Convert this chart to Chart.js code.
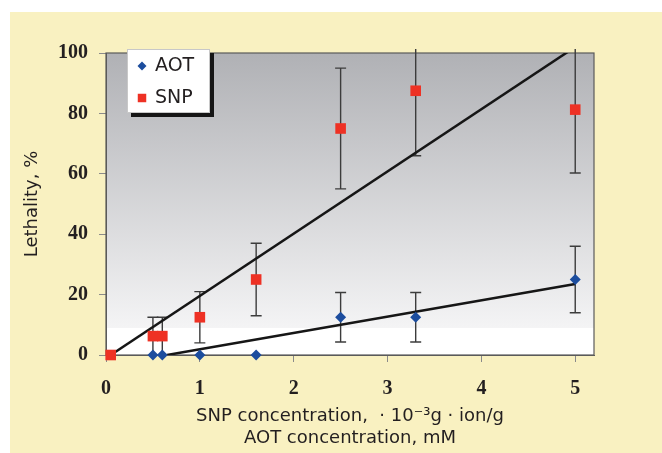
<!DOCTYPE html>
<html>
<head>
<meta charset="utf-8">
<title>Lethality vs concentration</title>
<script src="https://cdn.jsdelivr.net/npm/chart.js@4.4.0/dist/chart.umd.min.js"></script>
<style>
  html, body { margin: 0; padding: 0; background: #fff; }
  #wrap { width: 662px; height: 453px; }
</style>
</head>
<body>
<div id="wrap"><canvas id="lethalityChart"></canvas></div>
<script>
// Values
const xTicks = [0, 1, 2, 3, 4, 5];
const yTicks = [0, 20, 40, 60, 80, 100];

const aotX = [0.5, 0.6, 1, 1.6, 2.5, 3.3, 5];
const aotY = [0, 0, 0, 0, 12.5, 12.5, 25];
const aotErr = [0, 0, 0, 0, 8.2, 8.2, 11];

const snpX = [0.05, 0.5, 0.6, 1, 1.6, 2.5, 3.3, 5];
const snpY = [0, 6.25, 6.25, 12.5, 25, 75, 87.5, 81.25];
const snpErr = [0, 6.25, 6.25, 8.5, 12, 20, 21.5, 21];

// Linear trend lines (end points)
const snpTrendX = [0.05, 5];
const snpTrendY = [0, 102];
const aotTrendX = [0.65, 5];
const aotTrendY = [0, 23.5];

const textColor = '#231f20';

function toPoints(xs, ys) {
    return xs.map((v, i) => ({ x: v, y: ys[i] }));
}

// Yellow panel, grey gradient plot area and frame
const panel = {
    id: 'panel',
    beforeDraw(chart) {
        const { ctx, chartArea: a } = chart;
        ctx.save();
        ctx.fillStyle = '#f9f1c1';
        ctx.fillRect(10, 12, chart.width - 10, chart.height - 12);
        const g = ctx.createLinearGradient(0, a.top, 0, a.bottom);
        g.addColorStop(0, '#b0b1b5');
        g.addColorStop(0.91, '#f4f4f5');
        g.addColorStop(0.91, '#ffffff');
        g.addColorStop(1, '#ffffff');
        ctx.fillStyle = g;
        ctx.fillRect(a.left, a.top, a.right - a.left, a.bottom - a.top);
        ctx.restore();
    },
    beforeDatasetsDraw(chart) {
        const { ctx, chartArea: a } = chart;
        ctx.save();
        ctx.strokeStyle = '#5a5a5a';
        ctx.lineWidth = 1.2;
        ctx.strokeRect(a.left, a.top, a.right - a.left, a.bottom - a.top);
        ctx.restore();
    }
};

// Vertical error bars, taken from dataset.errors
const errorBars = {
    id: 'errorBars',
    beforeDatasetsDraw(chart) {
        const { ctx, chartArea, scales: { x, y } } = chart;
        ctx.save();
        ctx.strokeStyle = '#3c3c3c';
        ctx.lineWidth = 1.4;
        chart.data.datasets.forEach(ds => {
            if (!ds.errors) return;
            ds.data.forEach((p, i) => {
                const e = ds.errors[i];
                if (!e) return;
                const px = x.getPixelForValue(p.x);
                let top = y.getPixelForValue(p.y + e);
                const bot = y.getPixelForValue(Math.max(0, p.y - e));
                const topCap = top >= chartArea.top;
                if (!topCap) top = chartArea.top - 4;
                ctx.beginPath();
                ctx.moveTo(px, top);
                ctx.lineTo(px, bot);
                if (topCap) {
                    ctx.moveTo(px - 5.5, top);
                    ctx.lineTo(px + 5.5, top);
                }
                if (p.y - e > 0) {
                    ctx.moveTo(px - 5.5, bot);
                    ctx.lineTo(px + 5.5, bot);
                }
                ctx.stroke();
            });
        });
        ctx.restore();
    }
};

// Boxed legend with drop shadow inside the plot
const boxLegend = {
    id: 'boxLegend',
    afterDraw(chart) {
        const { ctx, chartArea: a } = chart;
        const items = chart.data.datasets.filter(d => d.label);
        const bx = a.left + 21, by = a.top - 4, bw = 83, bh = 64;
        ctx.save();
        ctx.fillStyle = '#161616';
        ctx.fillRect(bx + 4, by + 4, bw, bh);
        ctx.fillStyle = '#ffffff';
        ctx.fillRect(bx, by, bw, bh);
        ctx.strokeStyle = '#c8c8c8';
        ctx.lineWidth = 1;
        ctx.strokeRect(bx + 0.5, by + 0.5, bw - 1, bh - 1);
        ctx.font = '19px "DejaVu Sans"';
        ctx.textBaseline = 'middle';
        items.forEach((d, i) => {
            const cy = by + 17 + i * 32;
            ctx.fillStyle = d.backgroundColor;
            Chart.helpers.drawPoint(ctx, { pointStyle: d.pointStyle, radius: d.legendRadius, borderWidth: 0 }, bx + 15, cy);
            ctx.fillStyle = textColor;
            ctx.fillText(d.label, bx + 28, cy);
        });
        ctx.restore();
    }
};

const tickFont = { family: '"Liberation Serif", "Times New Roman", serif', size: 20, weight: 'bold' };
const titleFont = { family: '"DejaVu Sans", sans-serif', size: 18, lineHeight: 1.22 };

const ctx = document.getElementById('lethalityChart').getContext('2d');
const chart = new Chart(ctx, {
    type: 'scatter',
    data: {
        datasets: [
            {
                label: 'AOT',
                data: toPoints(aotX, aotY),
                errors: aotErr,
                pointStyle: 'rectRot',
                pointRadius: 5.5,
                legendRadius: 4.5,
                backgroundColor: '#1c4d9e',
                borderWidth: 0,
                order: 0,
                clip: false
            },
            {
                label: 'SNP',
                data: toPoints(snpX, snpY),
                errors: snpErr,
                pointStyle: 'rect',
                pointRadius: 7.5,
                legendRadius: 6,
                backgroundColor: '#ee3124',
                borderWidth: 0,
                order: 0,
                clip: false
            },
            {
                type: 'line',
                data: toPoints(snpTrendX, snpTrendY),
                borderColor: '#161616',
                borderWidth: 2.5,
                pointRadius: 0,
                fill: false,
                order: 1
            },
            {
                type: 'line',
                data: toPoints(aotTrendX, aotTrendY),
                borderColor: '#161616',
                borderWidth: 2.5,
                pointRadius: 0,
                fill: false,
                order: 1
            }
        ]
    },
    options: {
        responsive: true,
        maintainAspectRatio: false,
        animation: false,
        events: [],
        layout: { padding: { left: 0, top: 53, right: 68, bottom: 0 } },
        plugins: {
            legend: { display: false },
            tooltip: { enabled: false }
        },
        scales: {
            x: {
                type: 'linear',
                min: 0,
                max: 5.2,
                afterBuildTicks: s => { s.ticks = xTicks.map(v => ({ value: v })); },
                afterFit: s => { s.height = 98; },
                grid: { drawOnChartArea: false, drawTicks: true, tickLength: 7, color: '#8a8a8a' },
                border: { display: true, color: '#5a5a5a' },
                ticks: { font: tickFont, color: textColor, padding: 15, autoSkip: false, maxRotation: 0 },
                title: {
                    display: true,
                    text: ['SNP concentration,  \u00b7 10\u207b\u00b3g \u00b7 ion/g', 'AOT concentration, mM'],
                    font: titleFont,
                    color: textColor,
                    padding: { top: 0, bottom: 4 }
                }
            },
            y: {
                type: 'linear',
                min: 0,
                max: 100,
                afterBuildTicks: s => { s.ticks = yTicks.map(v => ({ value: v })); },
                afterFit: s => { s.width = 106; },
                grid: { drawOnChartArea: false, drawTicks: true, tickLength: 7, color: '#8a8a8a' },
                border: { display: true, color: '#5a5a5a' },
                ticks: { font: tickFont, color: textColor, padding: 11, autoSkip: false },
                title: {
                    display: true,
                    text: 'Lethality, %',
                    font: titleFont,
                    color: textColor,
                    padding: { top: 21, bottom: 0 }
                }
            }
        }
    },
    plugins: [panel, errorBars, boxLegend]
});
</script>
</body>
</html>
